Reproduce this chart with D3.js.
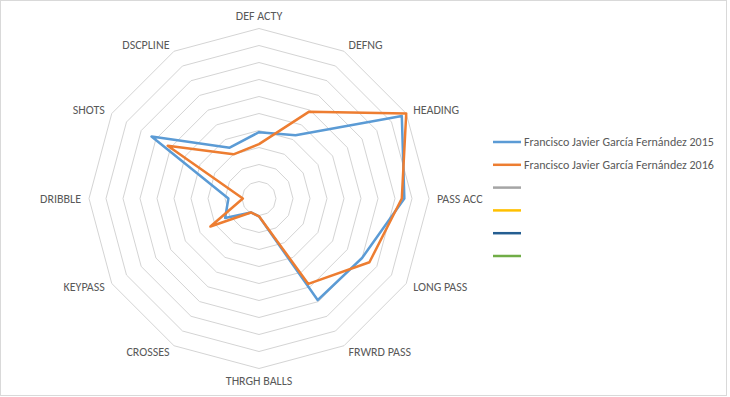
<!DOCTYPE html>
<html>
<head>
<meta charset="utf-8">
<script src="https://cdnjs.cloudflare.com/ajax/libs/d3/7.8.5/d3.min.js"></script>
<style>
  body { margin: 0; background: #fff; }
  text { font-family: Calibri, Carlito, "Liberation Sans", Arial, sans-serif; fill: #595959; }
</style>
</head>
<body>
<div id="wrapper"></div>
<script>

// 1. Data
const categories = ["DEF ACTY", "DEFNG", "HEADING", "PASS ACC", "LONG PASS", "FRWRD PASS",
  "THRGH BALLS", "CROSSES", "KEYPASS", "DRIBBLE", "SHOTS", "DSCPLINE"]
const values2015 = [3.9, 4.3, 9.7, 8.55, 7.0, 6.9, 1.05, 0.95, 2.3, 1.8, 7.3, 3.45]
const values2016 = [3.2, 5.9, 10, 8.4, 7.5, 5.8, 1.05, 0.95, 3.3, 0.95, 6.2, 3.0]
const seriesNames = ["Francisco Javier García Fernández 2015", "Francisco Javier García Fernández 2016", "", "", "", ""]
const seriesColors = ["#5B9BD5", "#ED7D31", "#A5A5A5", "#FFC000", "#255E91", "#70AD47"]
const ringTicks = [1, 2, 3, 4, 5, 6, 7, 8, 9, 10]

const series = [values2015, values2016]

// 2. Dimensions
const dimensions = {
  width: 730,
  height: 397,
  cx: 259,
  cy: 198.5,
  radius: 170,
}

// 3. Canvas
const svg = d3.select("#wrapper")
  .append("svg")
    .attr("width", dimensions.width)
    .attr("height", dimensions.height)

svg.append("rect")
    .attr("x", 0.5)
    .attr("y", 0.5)
    .attr("width", 726)
    .attr("height", 395)
    .attr("fill", "#fff")
    .attr("stroke", "#d9d9d9")

const bounds = svg.append("g")
    .attr("transform", `translate(${dimensions.cx},${dimensions.cy})`)

// 4. Scales
const rScale = d3.scaleLinear()
  .domain([0, 10])
  .range([0, dimensions.radius])

const angleScale = d3.scaleLinear()
  .domain([0, categories.length])
  .range([0, 2 * Math.PI])

const radarLine = d3.lineRadial()
  .angle((d, i) => angleScale(i))
  .radius(d => rScale(d))
  .curve(d3.curveLinearClosed)

// 5. Grid rings
bounds.selectAll(".ring")
  .data(ringTicks)
  .enter().append("path")
    .attr("class", "ring")
    .attr("d", t => radarLine(categories.map(() => t)))
    .attr("fill", "none")
    .attr("stroke", "#d4d4d4")
    .attr("stroke-width", 1)

// category labels
bounds.selectAll(".cat")
  .data(categories)
  .enter().append("text")
    .attr("class", "cat")
    .each(function(d, i) {
      const a = angleScale(i)
      const s = Math.sin(a), c = Math.cos(a)
      const vx = rScale(10) * s, vy = -rScale(10) * c
      const el = d3.select(this)
      if (Math.abs(s) < 0.01) {
        el.attr("x", vx).attr("y", vy + (c > 0 ? -13 : 12)).attr("text-anchor", "middle")
      } else {
        el.attr("x", vx + s * 7 + (s > 0 ? 1 : -1) * 1)
          .attr("y", vy - c * 7.5)
          .attr("text-anchor", s > 0 ? "start" : "end")
      }
    })
    .attr("dominant-baseline", "central")
    .style("font-size", "12px")
    .text(d => d)

// 6. Series
bounds.selectAll(".series")
  .data(series)
  .enter().append("path")
    .attr("class", "series")
    .attr("d", d => radarLine(d))
    .attr("fill", "none")
    .attr("stroke", (d, i) => seriesColors[i])
    .attr("stroke-width", 2.5)
    .attr("stroke-linejoin", "round")

// 7. Legend
const legend = svg.append("g")
    .attr("transform", "translate(493,142)")

const legendItems = legend.selectAll("g")
  .data(seriesNames)
  .enter().append("g")
    .attr("transform", (d, i) => `translate(0,${i * 22.8})`)

legendItems.append("line")
    .attr("x1", 0)
    .attr("x2", 28)
    .attr("stroke", (d, i) => seriesColors[i])
    .attr("stroke-width", 2.5)

legendItems.append("text")
    .attr("x", 31)
    .attr("dominant-baseline", "central")
    .style("font-size", "12px")
    .text(d => d)

</script>
</body>
</html>
